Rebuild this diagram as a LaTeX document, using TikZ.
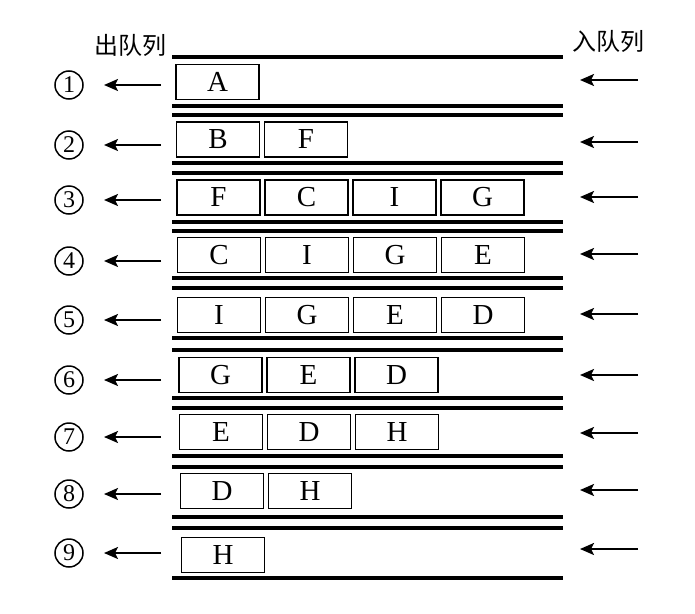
\documentclass[tikz,border=0pt]{standalone}
\usepackage{fontspec}
\setmainfont{Liberation Serif}
\newfontfamily\cjkfont{Noto Sans CJK SC}
\usetikzlibrary{arrows.meta}
\begin{document}
\begin{tikzpicture}[x=1pt,y=-1pt,
  cell/.style={draw, line width=1.8pt, minimum width=83pt, minimum height=35pt, inner sep=0pt, font=\fontsize{29}{29}\selectfont},
  rail/.style={line width=3.6pt},
  arr/.style={line width=2.2pt, -{Stealth[length=14pt,width=12pt,inset=3pt]}},
  num/.style={circle, draw, line width=1.5pt, minimum size=28pt, inner sep=0pt, font=\fontsize{24}{24}\selectfont},
  head/.style={font=\cjkfont\fontsize{24}{24}\selectfont, inner sep=0pt}]
\useasboundingbox (0,0) rectangle (695,613);
\node[head] (out) at (130,45) {出队列};
\node[head] (in) at (608,41) {入队列};
\foreach \y in {57,106,115,163,173,222,231,278,288,338,350,398,408,456,467,517,528,578}
  \draw[rail] (172,\y) -- (563,\y);
\foreach \r/\c/\xo/\items/\ly/\ry in {1/82/217.5/{A}/85/80, 2/139.5/218/{B,F}/145/142, 3/197.5/218.5/{F,C,I,G}/200/197, 4/255/219/{C,I,G,E}/261/254, 5/315/219/{I,G,E,D}/320/314, 6/375/220.5/{G,E,D}/380/375, 7/432/221/{E,D,H}/437/433, 8/491/222/{D,H}/494/490, 9/555/223/{H}/553/549}{
  \node[num] (n\r) at (69,\ly) {\r};
  \coordinate (ls\r) at (161,\ly);
  \coordinate (le\r) at (104,\ly);
  \draw[arr] (ls\r) -- (le\r);
  \coordinate (rs\r) at (638,\ry);
  \coordinate (re\r) at (580,\ry);
  \draw[arr] (rs\r) -- (re\r);
  \foreach \t [count=\k] in \items {
    \node[cell] (b\r-\k) at ({\xo+(\k-1)*88},\c) {\t};
  }
}
\end{tikzpicture}
\end{document}
